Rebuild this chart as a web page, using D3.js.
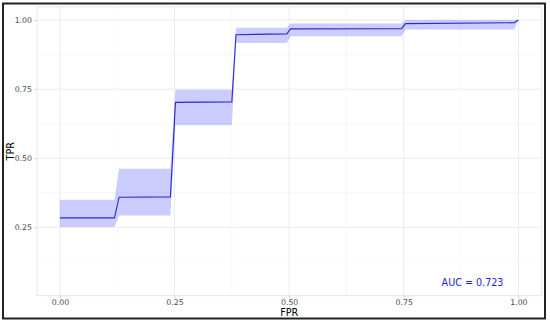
<!DOCTYPE html>
<html><head><meta charset="utf-8">
<script src="https://cdn.jsdelivr.net/npm/d3@7"></script>
<style>body{margin:0;background:#fff}svg{display:block}</style>
</head><body>
<svg id="c" width="550" height="324"></svg>
<script>
const fpr   = [0, 0.119, 0.129, 0.241, 0.252, 0.375, 0.384, 0.495, 0.503, 0.745, 0.754, 0.991, 1.0];
const tpr   = [0.284, 0.284, 0.359, 0.360, 0.702, 0.704, 0.947, 0.950, 0.968, 0.969, 0.987, 0.990, 1.0];
const lower = [0.251, 0.251, 0.293, 0.293, 0.619, 0.619, 0.917, 0.917, 0.941, 0.941, 0.966, 0.966, 1.0];
const upper = [0.350, 0.350, 0.462, 0.462, 0.748, 0.748, 0.972, 0.972, 0.987, 0.987, 1.0, 1.0, 1.0];
const xTicks = [0, 0.25, 0.5, 0.75, 1.0];
const yTicks = [0.25, 0.5, 0.75, 1.0];
const xMinor = [0.125, 0.375, 0.625, 0.875];
const yMinor = [0.125, 0.375, 0.625, 0.875];
const aucLabel = "AUC = 0.723";
const aucPos = [0.9, 0.05];

const svg = d3.select("#c");
const W = 550, H = 324;
const pl = 37, pr = 541.3, pt = 6.9, pb = 295.7;
const x = d3.scaleLinear().domain([-0.05, 1.05]).range([pl, pr]);
const y = d3.scaleLinear().domain([0.0025, 1.0475]).range([pb, pt]);

svg.append("rect").attr("width", W).attr("height", H).attr("fill", "#fff");

const g = svg.append("g");
// minor grid
g.selectAll(".xm").data(xMinor).join("line")
  .attr("x1", d => x(d)).attr("x2", d => x(d)).attr("y1", pt).attr("y2", pb)
  .attr("stroke", "#f4f4f4").attr("stroke-width", 0.6);
g.selectAll(".ym").data(yMinor).join("line")
  .attr("y1", d => y(d)).attr("y2", d => y(d)).attr("x1", pl).attr("x2", pr)
  .attr("stroke", "#f4f4f4").attr("stroke-width", 0.6);
// major grid
g.selectAll(".xg").data(xTicks).join("line")
  .attr("x1", d => x(d)).attr("x2", d => x(d)).attr("y1", pt).attr("y2", pb)
  .attr("stroke", "#ebebeb").attr("stroke-width", 1);
g.selectAll(".yg").data(yTicks).join("line")
  .attr("y1", d => y(d)).attr("y2", d => y(d)).attr("x1", pl).attr("x2", pr)
  .attr("stroke", "#ebebeb").attr("stroke-width", 1);

const pts = fpr.map((f, i) => ({f, t: tpr[i], lo: lower[i], hi: upper[i]}));
const area = d3.area().x(d => x(d.f)).y0(d => y(d.lo)).y1(d => y(d.hi));
g.append("path").datum(pts).attr("d", area).attr("fill", "#0000ff").attr("fill-opacity", 0.2);
const line = d3.line().x(d => x(d.f)).y(d => y(d.t));
g.append("path").datum(pts).attr("d", line).attr("fill", "none")
  .attr("stroke", "#2b2bd0").attr("stroke-width", 1.1);

// panel border
svg.append("rect").attr("x", pl).attr("y", pt).attr("width", pr - pl).attr("height", pb - pt)
  .attr("fill", "none").attr("stroke", "#e2e2e2").attr("stroke-width", 0.8);

// axes
const xAxis = d3.axisBottom(x).tickValues(xTicks).tickFormat(d3.format(".2f")).tickSize(2.5).tickPadding(1);
const gx = svg.append("g").attr("transform", `translate(0,${pb})`).call(xAxis);
const yAxis = d3.axisLeft(y).tickValues(yTicks).tickFormat(d3.format(".2f")).tickSize(2.5).tickPadding(2.5);
const gy = svg.append("g").attr("transform", `translate(${pl},0)`).call(yAxis);
[gx, gy].forEach(a => {
  a.select(".domain").remove();
  a.selectAll(".tick line").attr("stroke", "#d0d0d0");
  a.selectAll(".tick text").attr("fill", "#4d4d4d").attr("font-family", "DejaVu Sans").attr("font-size", 7.8);
});

svg.append("text").attr("x", (pl + pr) / 2).attr("y", 315.8).attr("text-anchor", "middle")
  .attr("font-family", "DejaVu Sans").attr("font-size", 9.6).attr("fill", "#000").text("FPR");
svg.append("text").attr("transform", `translate(14,${(pt + pb) / 2}) rotate(-90)`).attr("text-anchor", "middle")
  .attr("font-family", "DejaVu Sans").attr("font-size", 9.6).attr("fill", "#000").text("TPR");

svg.append("text").attr("x", x(aucPos[0])).attr("y", y(aucPos[1])).attr("dy", "0.35em")
  .attr("text-anchor", "middle").attr("font-family", "DejaVu Sans").attr("font-size", 9.6)
  .attr("fill", "#1f1fd6").text(aucLabel);

// outer border
svg.append("rect").attr("x", 3).attr("y", 3.5).attr("width", 542).attr("height", 315)
  .attr("fill", "none").attr("stroke", "#222").attr("stroke-width", 2);
</script>
</body></html>
